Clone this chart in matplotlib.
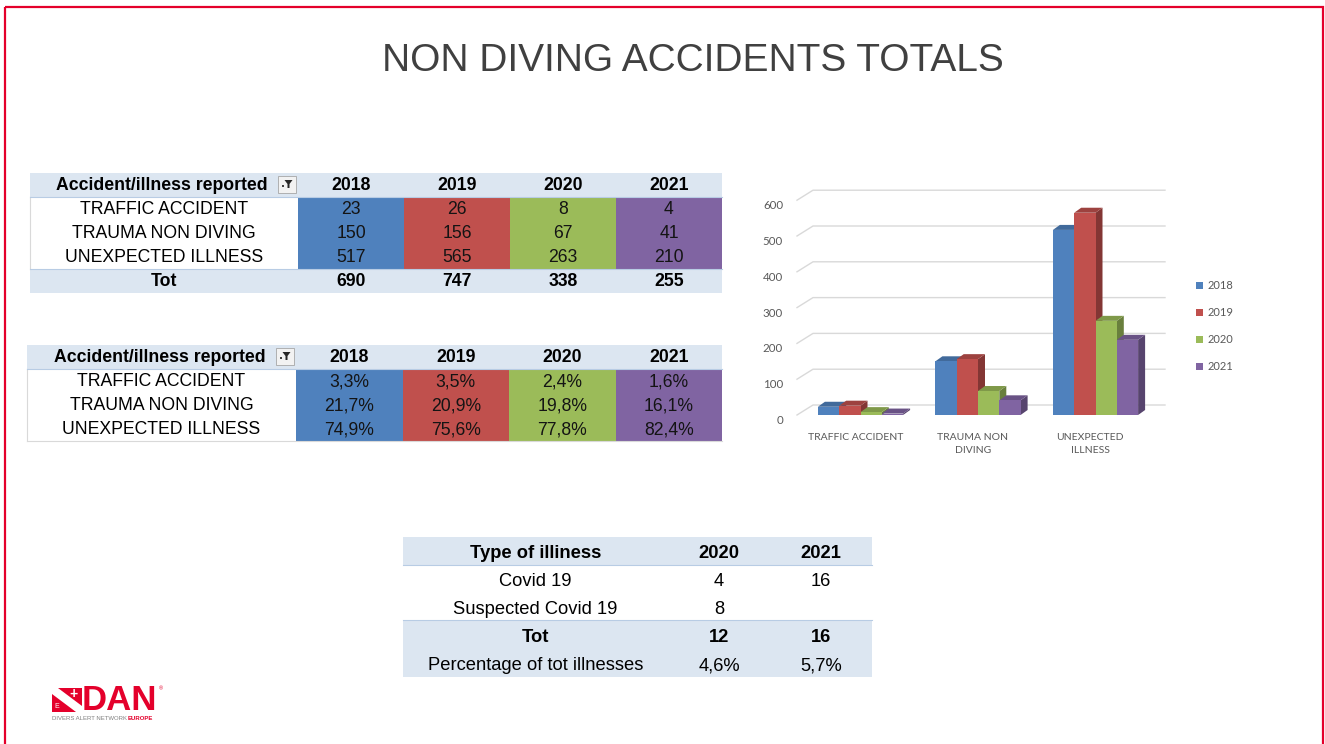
import matplotlib.pyplot as plt
from matplotlib.patches import Rectangle, Polygon
from matplotlib.colors import to_rgb

W, H = 1325, 744

# ---- data ----
years = ["2018", "2019", "2020", "2021"]
categories = ["TRAFFIC ACCIDENT", "TRAUMA NON DIVING", "UNEXPECTED ILLNESS"]
chart_labels = ["TRAFFIC ACCIDENT", "TRAUMA NON\nDIVING", "UNEXPECTED\nILLNESS"]
n2018 = [23, 150, 517]
n2019 = [26, 156, 565]
n2020 = [8, 67, 263]
n2021 = [4, 41, 210]
totals = [690, 747, 338, 255]
p2018 = ["3,3%", "21,7%", "74,9%"]
p2019 = ["3,5%", "20,9%", "75,6%"]
p2020 = ["2,4%", "19,8%", "77,8%"]
p2021 = ["1,6%", "16,1%", "82,4%"]

illness_types = ["Covid 19", "Suspected Covid 19"]
ill_years = ["2020", "2021"]
ill2020 = ["4", "8"]
ill2021 = ["16", ""]
ill_tot = ["12", "16"]
ill_pct = ["4,6%", "5,7%"]

colors = ["#4F81BD", "#C0504D", "#9BBB59", "#8064A2"]
head_bg = "#DCE6F1"
line_c = "#B8CCE4"
TF = "Liberation Sans"
FS = 12.7


def shade(c, f):
    r, g, b = to_rgb(c)
    return (r * f, g * f, b * f)


fig = plt.figure(figsize=(13.25, 7.44), dpi=100)
bg = fig.add_axes([0, 0, 1, 1])
bg.set_xlim(0, W)
bg.set_ylim(H, 0)
bg.axis('off')

# slide border
bg.add_patch(Rectangle((4.5, 6.5), 1318, 760, fill=False, ec='#E4002B', lw=1.6))

bg.text(693, 61, "NON DIVING ACCIDENTS TOTALS", fontsize=28, color='#404040',
        ha='center', va='center', family=TF)


def filter_icon(x, y):
    bg.add_patch(Rectangle((x, y), 18, 17, fc='#F2F2F2', ec='#A6A6A6', lw=0.6))
    cx, cy = x + 10.5, y + 8
    bg.add_patch(Polygon([(cx - 4, cy - 4), (cx + 4, cy - 4), (cx + 1, cy), (cx + 1, cy + 4),
                          (cx - 1, cy + 4), (cx - 1, cy)], closed=True, fc='#262626', ec='none'))
    bg.add_patch(Rectangle((cx - 7, cy + 1), 2, 2, fc='#404040', ec='none'))


def year_table(x0, y0, label_w, col_w, row_h, values, tot=None):
    full_w = label_w + col_w * len(years)
    # header
    bg.add_patch(Rectangle((x0, y0), full_w, row_h, fc=head_bg, ec='none'))
    bg.text(x0 + label_w / 2 - 2, y0 + row_h / 2 + 1, "Accident/illness reported", fontsize=FS,
            fontweight='bold', ha='center', va='center', family=TF)
    filter_icon(x0 + label_w - 20, y0 + 3)
    for j, yr in enumerate(years):
        bg.text(x0 + label_w + col_w * (j + 0.5), y0 + row_h / 2 + 1, yr, fontsize=FS,
                fontweight='bold', ha='center', va='center', family=TF)
    # body
    body_y = y0 + row_h
    bg.plot([x0, x0], [body_y, body_y + row_h * len(categories)], color='#D9D9D9', lw=0.8)
    for j in range(len(years)):
        bg.add_patch(Rectangle((x0 + label_w + col_w * j, body_y), col_w, row_h * len(categories),
                               fc=colors[j], ec='none'))
    for i, cat in enumerate(categories):
        yc = body_y + row_h * (i + 0.5) + 1
        bg.text(x0 + label_w / 2, yc, cat, fontsize=FS, ha='center', va='center', family=TF)
        for j in range(len(years)):
            bg.text(x0 + label_w + col_w * (j + 0.5), yc, str(values[j][i]), fontsize=FS,
                    ha='center', va='center', family=TF, color='#141414')
    bg.plot([x0, x0 + full_w], [body_y, body_y], color=line_c, lw=0.8)
    end_y = body_y + row_h * len(categories)
    if tot is not None:
        bg.add_patch(Rectangle((x0, end_y), full_w, row_h, fc=head_bg, ec='none'))
        bg.plot([x0, x0 + full_w], [end_y, end_y], color=line_c, lw=0.8)
        bg.text(x0 + label_w / 2, end_y + row_h / 2 + 1, "Tot", fontsize=FS, fontweight='bold',
                ha='center', va='center', family=TF)
        for j in range(len(years)):
            bg.text(x0 + label_w + col_w * (j + 0.5), end_y + row_h / 2 + 1, str(tot[j]), fontsize=FS,
                    fontweight='bold', ha='center', va='center', family=TF)
    else:
        bg.plot([x0, x0 + full_w], [end_y, end_y], color='#D9D9D9', lw=0.8)


year_table(30, 173, 268, 106, 24, [n2018, n2019, n2020, n2021], totals)
year_table(27, 345, 269, 106.5, 24, [p2018, p2019, p2020, p2021])

# ---- covid table ----
tx0, tlw, tcw, trh, ty0 = 403, 265, 102, 28, 538
tfull = tlw + tcw * len(ill_years)
bg.add_patch(Rectangle((tx0, ty0 - 1), tfull, trh, fc=head_bg, ec='none'))
bg.plot([tx0, tx0 + tfull], [ty0 + trh - 1, ty0 + trh - 1], color=line_c, lw=0.8)
bg.add_patch(Rectangle((tx0, ty0 + trh * 3 - 2), tfull, trh * 2 + 1, fc=head_bg, ec='none'))
bg.plot([tx0, tx0 + tfull], [ty0 + trh * 3 - 2, ty0 + trh * 3 - 2], color=line_c, lw=0.8)
rows = [("Type of illiness", ill_years, 'bold')]
rows += [(t, [ill2020[k], ill2021[k]], 'normal') for k, t in enumerate(illness_types)]
rows += [("Tot", ill_tot, 'bold'), ("Percentage of tot illnesses", ill_pct, 'normal')]
for r, (lab, vals, wt) in enumerate(rows):
    yc = ty0 + trh * (r + 0.5) + 2
    bg.text(tx0 + tlw / 2, yc, lab, fontsize=13.2, fontweight=wt, ha='center', va='center', family=TF)
    for j, v in enumerate(vals):
        bg.text(tx0 + tlw + tcw * (j + 0.5), yc, v, fontsize=13.2, fontweight=wt,
                ha='center', va='center', family=TF)

# ---- 3D-look column chart ----
px_x = 117.5   # pixels per category
px_y = 0.358   # pixels per unit value
ax_l, ax_r, ax_y0 = 790, 1170, 415
ymax = 650
ax = fig.add_axes([ax_l / W, (H - ax_y0) / H, (ax_r - ax_l) / W, ymax * px_y / H])
ax.patch.set_alpha(0)
xmin = -(860.5 - ax_l) / px_x
ax.set_xlim(xmin, xmin + (ax_r - ax_l) / px_x)
ax.set_ylim(0, ymax)

yticks = list(range(0, 700, 100))
wall_left = xmin + 7 / px_x
wall_dx, wall_dy = 16 / px_x, 10 / px_y
grid_right = xmin + (1165 - ax_l) / px_x
for v in yticks:
    ax.plot([wall_left, wall_left + wall_dx, grid_right], [v, v + wall_dy, v + wall_dy],
            color='#D9D9D9', lw=1, zorder=1, clip_on=False)

series = [n2018, n2019, n2020, n2021]
bw = 21.3 / px_x
ddx, ddy = 7 / px_x, 5 / px_y
z = 3
for j, vals in enumerate(series):
    for i, v in enumerate(vals):
        xl = i - 2 * bw + j * bw
        ax.add_patch(Polygon([(xl + bw, 0), (xl + bw, v), (xl + bw + ddx, v + ddy), (xl + bw + ddx, ddy)],
                             closed=True, fc=shade(colors[j], 0.68), ec='none', zorder=z))
        ax.add_patch(Polygon([(xl, v), (xl + bw, v), (xl + bw + ddx, v + ddy), (xl + ddx, v + ddy)],
                             closed=True, fc=shade(colors[j], 0.82), ec='none', zorder=z + 1))
    xs = [i - 2 * bw + j * bw for i in range(len(vals))]
    ax.bar(xs, vals, width=bw, align='edge', color=colors[j], label=years[j], zorder=z + 2)
    z += 3

for s in ax.spines.values():
    s.set_visible(False)
ax.set_yticks(yticks)
ax.set_yticklabels([str(v) for v in yticks], va='top')
ax.set_xticks([i - 0.045 for i in range(len(chart_labels))])
ax.set_xticklabels(chart_labels, linespacing=1.6)
ax.tick_params(axis='y', length=0, pad=5, labelsize=8.3, labelcolor='#595959')
ax.tick_params(axis='x', length=0, pad=13, labelsize=7.5, labelcolor='#595959')
for t in ax.get_xticklabels() + ax.get_yticklabels():
    t.set_family('Lato')

ax.legend(loc='upper left', bbox_to_anchor=(1196 / W, 1 - 280 / H), bbox_transform=fig.transFigure,
          frameon=False, handlelength=0.6, handleheight=0.6, handletextpad=0.4,
          labelspacing=1.45, borderpad=0, borderaxespad=0, labelcolor='#595959',
          prop={'family': 'Lato', 'size': 8})

# ---- logo ----
red = '#E4002B'
bg.add_patch(Rectangle((52, 688), 30, 24, fc=red, ec='none'))
bg.add_patch(Polygon([(52, 688), (58, 688), (82, 706), (82, 712), (76, 712), (52, 694)],
                     closed=True, fc='white', ec='none'))
bg.text(74, 694, "+", color='white', fontsize=10, fontweight='bold', ha='center', va='center', family=TF)
bg.text(57, 707, "E", color='white', fontsize=5, ha='center', va='center', family=TF)
bg.text(82, 701, "DAN", color=red, fontsize=25, fontweight='bold', ha='left', va='center', family=TF)
bg.text(159, 689, "®", color=red, fontsize=4, ha='left', va='center', family=TF)
bg.text(52, 719, "DIVERS ALERT NETWORK", color='#808080', fontsize=4.3, ha='left', va='center',
        family=TF)
bg.text(128, 719, "EUROPE", color=red, fontsize=4.3, fontweight='bold', ha='left', va='center',
        family=TF)

fig.savefig("out.png", dpi=100)
